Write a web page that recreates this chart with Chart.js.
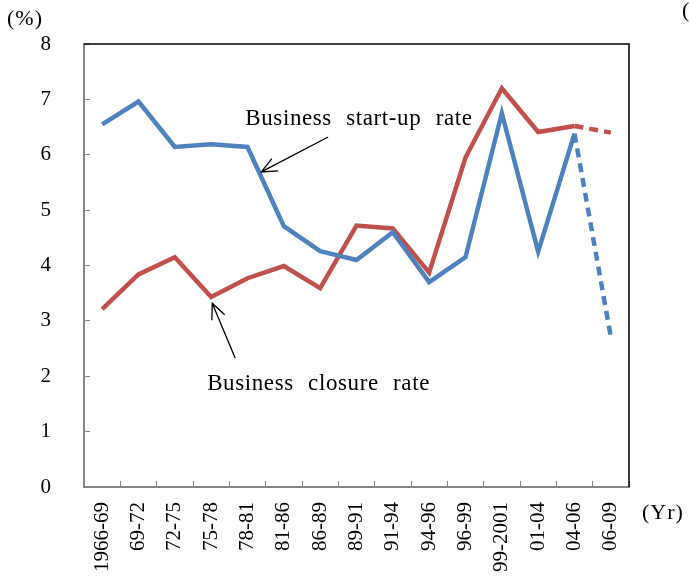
<!DOCTYPE html>
<html>
<head>
<meta charset="utf-8">
<script src="https://cdn.jsdelivr.net/npm/chart.js@4/dist/chart.umd.min.js"></script>
<style>
  html, body { margin: 0; padding: 0; background: #fff; }
  canvas { display: block; }
</style>
</head>
<body>
<canvas id="ratesChart" width="689" height="577"></canvas>
<script>
const periods = ['1966-69', '69-72', '72-75', '75-78', '78-81', '81-86', '86-89', '89-91',
                 '91-94', '94-96', '96-99', '99-2001', '01-04', '04-06', '06-09'];
const startupRate = [6.55, 6.96, 6.14, 6.19, 6.14, 4.71, 4.26, 4.10, 4.60, 3.70, 4.15, 6.75, 4.25, 6.38, 2.71];
const closureRate = [3.21, 3.84, 4.15, 3.43, 3.77, 3.99, 3.59, 4.72, 4.67, 3.87, 5.95, 7.20, 6.41, 6.52, 6.40];
const yTicks = [0, 1, 2, 3, 4, 5, 6, 7, 8];

const SERIF = '"Liberation Serif", "Times New Roman", serif';
const lastIdx = periods.length - 1;

// last period is provisional, so its segment is dashed
const dashLast = ctx => ctx.p1DataIndex === lastIdx ? [9, 6] : undefined;

// frame on top/right, free text and arrows
const decorations = {
  id: 'decorations',
  afterDraw(chart) {
    const { ctx, chartArea: a, scales: { x, y } } = chart;
    ctx.save();
    ctx.strokeStyle = '#000';
    ctx.lineWidth = 1.5;
    ctx.beginPath();
    ctx.moveTo(a.left, a.top);
    ctx.lineTo(a.right, a.top);
    ctx.lineTo(a.right, a.bottom);
    ctx.stroke();

    ctx.fillStyle = '#000';
    ctx.font = '22px ' + SERIF;
    ctx.textBaseline = 'middle';
    ctx.textAlign = 'left';
    ctx.letterSpacing = '1px';
    ctx.fillText('(%)', 7, 19);
    ctx.fillText('(Yr)', 642, 513);
    ctx.fillText('(', 682, 11);

    const P = (i, v) => [x.getPixelForValue(i), y.getPixelForValue(v)];

    ctx.font = '23px ' + SERIF;
    ctx.textBaseline = 'alphabetic';
    ctx.letterSpacing = '0.6px';
    ctx.wordSpacing = '8px';
    let [tx, ty] = P(3.94, 6.54);
    ctx.fillText('Business start-up rate', tx, ty);
    [tx, ty] = P(2.89, 1.75);
    ctx.fillText('Business closure rate', tx, ty);

    function arrow(from, to) {
      const [x0, y0] = from, [x1, y1] = to;
      const ang = Math.atan2(y1 - y0, x1 - x0);
      const len = 17, spread = 0.42;
      ctx.beginPath();
      ctx.moveTo(x0, y0);
      ctx.lineTo(x1, y1);
      ctx.moveTo(x1 - len * Math.cos(ang - spread), y1 - len * Math.sin(ang - spread));
      ctx.lineTo(x1, y1);
      ctx.lineTo(x1 - len * Math.cos(ang + spread), y1 - len * Math.sin(ang + spread));
      ctx.stroke();
    }
    ctx.lineWidth = 1.3;
    arrow(P(6.22, 6.32), P(4.38, 5.69));
    arrow(P(3.66, 2.33), P(3.03, 3.32));
    ctx.restore();
  }
};

new Chart(document.getElementById('ratesChart'), {
  type: 'line',
  data: {
    labels: periods,
    datasets: [
      {
        label: 'Business start-up rate',
        data: startupRate,
        borderColor: '#4F81BD',
        borderWidth: 4.5,
        pointRadius: 0,
        tension: 0,
        segment: { borderDash: dashLast }
      },
      {
        label: 'Business closure rate',
        data: closureRate,
        borderColor: '#C0504D',
        borderWidth: 4.5,
        pointRadius: 0,
        tension: 0,
        segment: { borderDash: dashLast }
      }
    ]
  },
  options: {
    responsive: false,
    animation: false,
    layout: { padding: { left: 0, top: 44, right: 60, bottom: 0 } },
    plugins: {
      legend: { display: false },
      tooltip: { enabled: false }
    },
    scales: {
      x: {
        offset: true,
        grid: { offset: true, drawOnChartArea: false, tickLength: -6, color: '#868686' },
        border: { color: '#868686', width: 2 },
        ticks: {
          autoSkip: false,
          minRotation: 90,
          maxRotation: 90,
          padding: 21,
          color: '#000',
          font: { family: SERIF, size: 21 }
        },
        afterFit(scale) { scale.height = 90; }
      },
      y: {
        min: 0,
        max: 8,
        grid: { drawOnChartArea: false, tickLength: -6, color: '#868686' },
        border: { color: '#868686', width: 2 },
        ticks: {
          stepSize: 1,
          padding: 39,
          color: '#000',
          font: { family: SERIF, size: 21 }
        },
        afterBuildTicks(scale) { scale.ticks = yTicks.map(v => ({ value: v })); },
        afterFit(scale) {
          // the big label padding should not push the plot down
          scale.width = 84;
          scale.paddingTop = 0;
          scale.paddingBottom = 0;
        }
      }
    }
  },
  plugins: [decorations]
});
</script>
</body>
</html>
